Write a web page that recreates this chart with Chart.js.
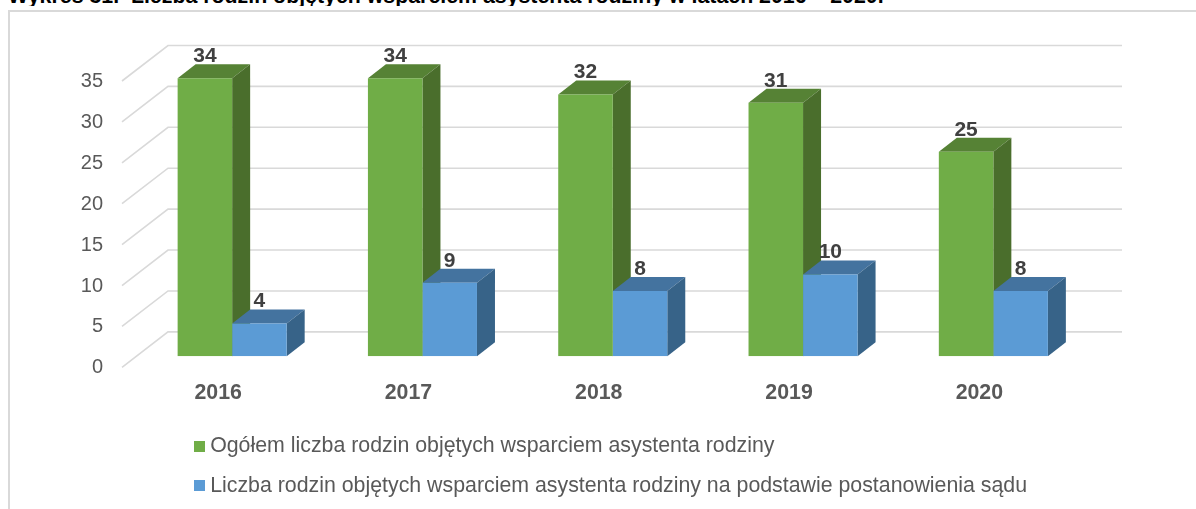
<!DOCTYPE html>
<html lang="pl">
<head>
<meta charset="utf-8">
<title>Wykres 31</title>
<script src="https://cdn.jsdelivr.net/npm/chart.js@4"></script>
<style>
    html, body { margin: 0; padding: 0; background: #fff; overflow: hidden; }
    .wrap { position: relative; width: 1196px; height: 509px; overflow: hidden; }
    .frame { position: absolute; left: 8px; top: 10px; right: -4px; bottom: -4px; border: 2px solid #d9d9d9; }
    .title-clip { position: absolute; left: 0; top: 0; width: 100%; height: 6px; overflow: hidden; }
    .title { position: absolute; left: 8px; top: -16px; font: bold 21.33px/24px "Liberation Sans", Arial, sans-serif; color: #000; white-space: pre; }
    canvas { position: absolute; left: 0; top: 0; }
</style>
</head>
<body>
<div class="wrap">
    <div class="frame"></div>
    <div class="title-clip"><div class="title">Wykres 31.  Liczba rodzin objętych wsparciem asystenta rodziny w latach 2016 – 2020.</div></div>
    <canvas id="rodzinyChart" width="1196" height="509"></canvas>
</div>
<script>
// Dane wykresu
const categories = ['2016', '2017', '2018', '2019', '2020'];
const ogolem = [34, 34, 32, 31, 25];
const postanowienie = [4, 9, 8, 10, 8];
const seriesNames = [
    'Ogółem liczba rodzin objętych wsparciem asystenta rodziny',
    'Liczba rodzin objętych wsparciem asystenta rodziny na podstawie postanowienia sądu'
];
const yMax = 35;
const yStep = 5;

// Kolory: front, góra, bok
const greenFaces = ['#70ad47', '#568235', '#4a6e2c'];
const blueFaces = ['#5b9bd5', '#44739f', '#376388'];

const FONT = '"Liberation Sans", Arial, sans-serif';
const DEPTH_X = 18;
const DEPTH_Y = 14;
const GRID_RIGHT = 1122;
const WALL_LEFT = 168;
const FLOOR_LEFT = 122;

// Kwadracik legendy
function swatch(color) {
    const c = document.createElement('canvas');
    c.width = 11;
    c.height = 11;
    const g = c.getContext('2d');
    g.fillStyle = color;
    g.fillRect(0, 0, 11, 11);
    return c;
}
const swatches = [swatch(greenFaces[0]), swatch(blueFaces[0])];

// Siatka i boki słupków (efekt 3D)
const bars3d = {
    id: 'bars3d',
    afterLayout(chart) {
        // legenda zaczyna się pod osią, a nie od lewej krawędzi
        chart.legend.left = 180;
    },
    beforeDatasetsDraw(chart) {
        const ctx = chart.ctx;
        const yScale = chart.scales.y;
        ctx.save();
        ctx.strokeStyle = '#d9d9d9';
        ctx.lineWidth = 1.6;
        yScale.ticks.forEach(t => {
            const y = yScale.getPixelForValue(t.value);
            ctx.beginPath();
            ctx.moveTo(FLOOR_LEFT, y + 11);
            ctx.lineTo(WALL_LEFT, y - 24.5);
            ctx.lineTo(GRID_RIGHT, y - 24.5);
            ctx.stroke();
        });
        const faces = [greenFaces, blueFaces];
        [0, 1].forEach(i => {
            chart.getDatasetMeta(i).data.forEach(bar => {
                const p = bar.getProps(['x', 'y', 'base', 'width']);
                const l = p.x - p.width / 2;
                const r = p.x + p.width / 2;
                // góra
                ctx.fillStyle = faces[i][1];
                ctx.beginPath();
                ctx.moveTo(l, p.y);
                ctx.lineTo(l + DEPTH_X, p.y - DEPTH_Y);
                ctx.lineTo(r + DEPTH_X, p.y - DEPTH_Y);
                ctx.lineTo(r, p.y);
                ctx.closePath();
                ctx.fill();
                // bok
                ctx.fillStyle = faces[i][2];
                ctx.beginPath();
                ctx.moveTo(r, p.y);
                ctx.lineTo(r + DEPTH_X, p.y - DEPTH_Y);
                ctx.lineTo(r + DEPTH_X, p.base - DEPTH_Y);
                ctx.lineTo(r, p.base);
                ctx.closePath();
                ctx.fill();
            });
        });
        ctx.restore();
    },
    afterDatasetsDraw(chart) {
        // Etykiety wartości
        const ctx = chart.ctx;
        ctx.save();
        ctx.font = 'bold 21px ' + FONT;
        ctx.fillStyle = '#404040';
        ctx.textAlign = 'center';
        ctx.textBaseline = 'middle';
        chart.data.datasets.forEach((ds, i) => {
            chart.getDatasetMeta(i).data.forEach((bar, j) => {
                ctx.fillText(ds.data[j], bar.x, bar.y - 22);
            });
        });
        ctx.restore();
    }
};

new Chart(document.getElementById('rodzinyChart'), {
    type: 'bar',
    data: {
        labels: categories,
        datasets: [
            { label: seriesNames[0], data: ogolem, backgroundColor: greenFaces[0] },
            { label: seriesNames[1], data: postanowienie, backgroundColor: blueFaces[0] }
        ]
    },
    options: {
        responsive: false,
        animation: false,
        categoryPercentage: 0.573,
        barPercentage: 1,
        layout: { padding: { left: 0, right: 107.5, top: 70, bottom: 2.5 } },
        scales: {
            x: {
                afterFit(scale) { scale.height = 60.5; },
                grid: { display: false },
                border: { display: false },
                ticks: {
                    padding: 16,
                    labelOffset: -14,
                    maxRotation: 0,
                    color: '#595959',
                    font: { family: FONT, size: 21.33, weight: 'bold' }
                }
            },
            y: {
                min: 0,
                max: yMax,
                afterFit(scale) { scale.width = 137; },
                grid: { display: false, drawTicks: false },
                border: { display: false },
                ticks: {
                    stepSize: yStep,
                    padding: 34,
                    labelOffset: 11.5,
                    color: '#595959',
                    font: { family: FONT, size: 20 }
                }
            }
        },
        plugins: {
            tooltip: { enabled: false },
            legend: {
                position: 'bottom',
                align: 'start',
                labels: {
                    usePointStyle: true,
                    pointStyleWidth: 1,
                    padding: 18.5,
                    color: '#595959',
                    font: { family: FONT, size: 21.33 },
                    generateLabels(chart) {
                        return Chart.defaults.plugins.legend.labels.generateLabels(chart)
                            .map((item, i) => ({ ...item, pointStyle: swatches[i] }));
                    }
                }
            }
        }
    },
    plugins: [bars3d]
});
</script>
</body>
</html>
